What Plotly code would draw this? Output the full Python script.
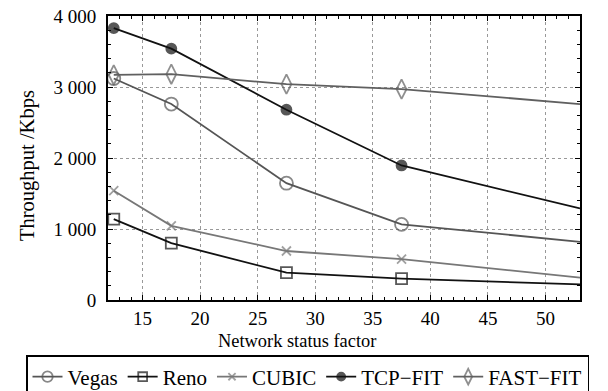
import plotly.graph_objects as go

x_vals = [12.5, 17.5, 27.5, 37.5, 53]
vegas = [3120, 2760, 1645, 1065, 820]
reno = [1140, 800, 385, 300, 220]
cubic = [1540, 1045, 690, 575, 315]
tcpfit = [3830, 3540, 2680, 1895, 1290]
fastfit = [3170, 3180, 3040, 2970, 2760]

y_tickvals = [0, 1000, 2000, 3000, 4000]
y_ticktext = ["0", "1 000", "2 000", "3 000", "4 000"]
x_tickvals = [15, 20, 25, 30, 35, 40, 45, 50]

series = [
    ("Vegas", vegas, "#555555", "circle-open", 13),
    ("Reno", reno, "#111111", "square-open", 11),
    ("CUBIC", cubic, "#777777", "x-thin-open", 9),
    ("TCP\u2212FIT", tcpfit, "#111111", "circle", 10),
    ("FAST\u2212FIT", fastfit, "#606060", "diamond-tall-open", 14),
]

FONT = "'Liberation Serif', 'Times New Roman', serif"
fig = go.Figure()
for name, ys, col, sym, sz in series:
    sizes = [sz] * (len(x_vals) - 1) + [0]
    fig.add_trace(go.Scatter(
        x=x_vals, y=ys, name=name, mode="lines+markers",
        line=dict(color=col, width=1.8),
        marker=dict(symbol=sym, size=sizes, color=col,
                    line=dict(color=col, width=1.8)),
        cliponaxis=False,
    ))

fig.update_layout(
    width=608, height=391,
    margin=dict(l=108, r=28, t=16, b=91, autoexpand=False),
    paper_bgcolor="white", plot_bgcolor="white",
    font=dict(family=FONT, size=18, color="black"),
    showlegend=True,
    legend=dict(orientation="h", x=(26 - 108) / 472, xanchor="left",
                y=(300 - 355) / 284, yanchor="top",
                bordercolor="black", borderwidth=1.5, font=dict(size=21, family=FONT),
                itemsizing="trace", tracegroupgap=0, itemwidth=30),
    xaxis=dict(range=[12, 53], tickvals=x_tickvals, ticks="inside", ticklen=5,
               tickwidth=1, tickcolor="black",
               showline=True, linecolor="black", linewidth=2, mirror="allticks",
               showgrid=True, gridcolor="#999999", griddash="dot", gridwidth=1,
               zeroline=False, tickfont=dict(size=19),
               minor=dict(dtick=1, ticks="inside", ticklen=3, tickcolor="black", showgrid=False)),
    yaxis=dict(range=[0, 4000], tickvals=y_tickvals, ticktext=y_ticktext, ticks="inside",
               ticklen=5, tickwidth=1, tickcolor="black",
               showline=True, linecolor="black", linewidth=2, mirror="allticks",
               showgrid=True, gridcolor="#999999", griddash="dot", gridwidth=1,
               zeroline=False, tickfont=dict(size=19), ticklabelstandoff=6,
               minor=dict(dtick=200, ticks="inside", ticklen=3, tickcolor="black", showgrid=False)),
    annotations=[
        dict(text="Network status factor", xref="paper", yref="paper",
             x=(297 - 108) / 472, y=(300 - 341) / 284, xanchor="center", yanchor="middle",
             showarrow=False, font=dict(size=18.4, family=FONT)),
        dict(text="Throughput /Kbps", xref="paper", yref="paper", textangle=-90,
             x=(27 - 108) / 472, y=(300 - 166) / 284, xanchor="center", yanchor="middle",
             showarrow=False, font=dict(size=20.5, family=FONT)),
    ],
)

fig.write_html("out.html")
